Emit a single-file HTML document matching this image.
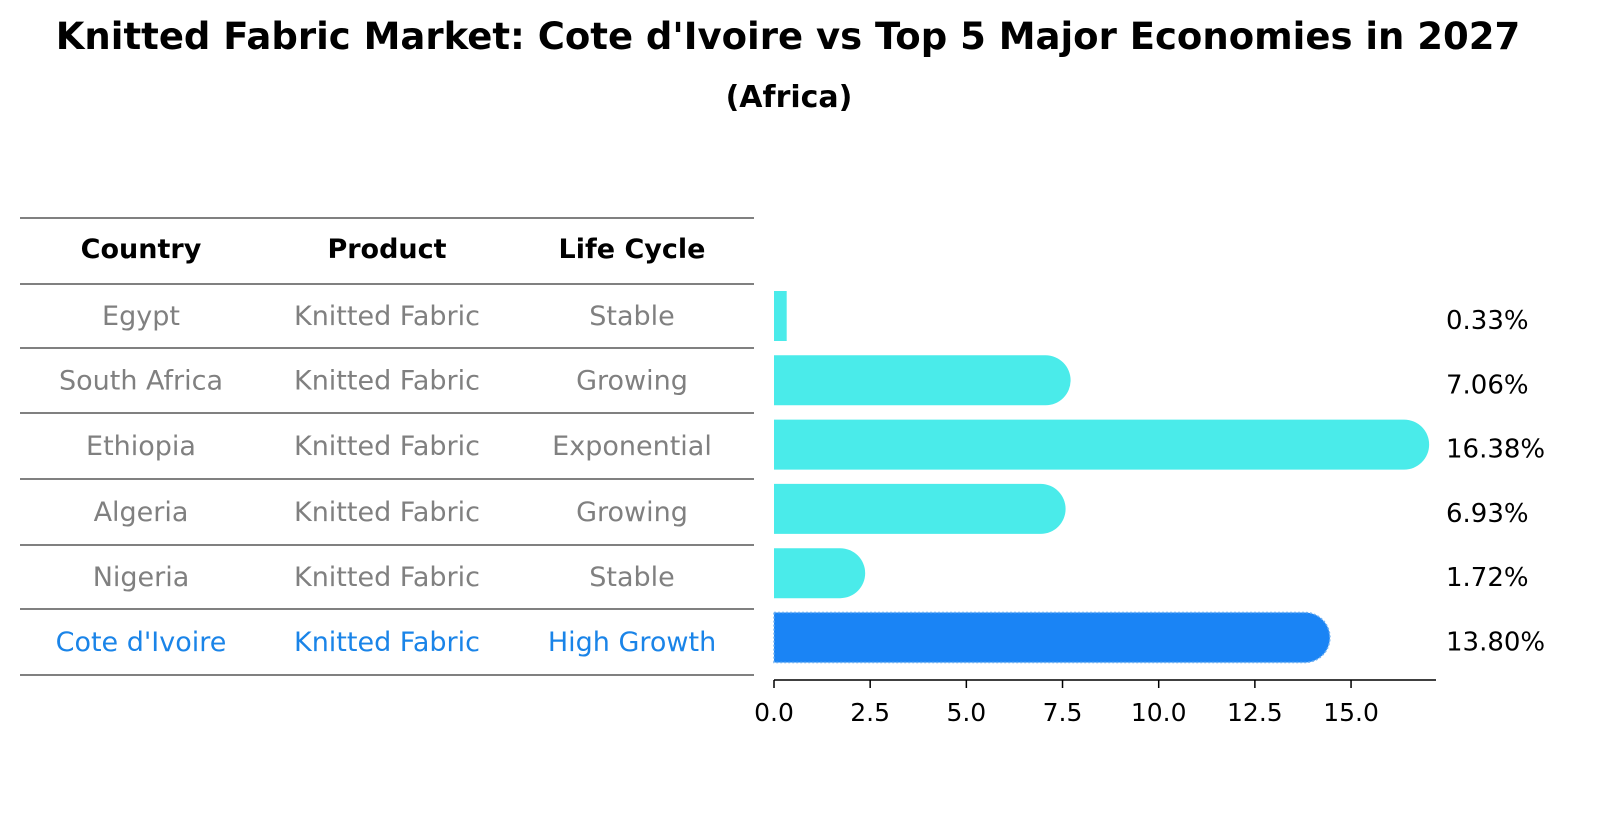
<!DOCTYPE html>
<html><head><meta charset="utf-8"><style>
body{margin:0;background:#fff;font-family:"Liberation Sans","DejaVu Sans",sans-serif;}
svg text{font-family:"DejaVu Sans","Liberation Sans",sans-serif;}
</style></head><body>
<svg id="c" width="1604" height="823" xmlns="http://www.w3.org/2000/svg">
<text x="788" y="49" text-anchor="middle" font-size="37" font-weight="bold" fill="#000">Knitted Fabric Market: Cote d'Ivoire vs Top 5 Major Economies in 2027</text>
<text x="789" y="107" text-anchor="middle" font-size="30" font-weight="bold" fill="#000">(Africa)</text>
<g id="table"></g>
<g id="bars"></g>
</svg>
<script>
const countries=["Egypt","South Africa","Ethiopia","Algeria","Nigeria","Cote d'Ivoire"];
const products=["Knitted Fabric","Knitted Fabric","Knitted Fabric","Knitted Fabric","Knitted Fabric","Knitted Fabric"];
const lifeCycles=["Stable","Growing","Exponential","Growing","Stable","High Growth"];
const values=[0.33,7.06,16.38,6.93,1.72,13.80];
const valueLabels=["0.33%","7.06%","16.38%","6.93%","1.72%","13.80%"];
const ticks=[0,2.5,5,7.5,10,12.5,15];
const tickLabels=["0.0","2.5","5.0","7.5","10.0","12.5","15.0"];

const NS="http://www.w3.org/2000/svg";
function mk(tag,attrs,parent){const e=document.createElementNS(NS,tag);for(const k in attrs)e.setAttribute(k,attrs[k]);parent.appendChild(e);return e;}
const x=v=>774+v*38.47;
const rowY=i=>316+i*64.3;
const tbl=document.getElementById('table');
const bars=document.getElementById('bars');
const lineYs=[218,284,348,413,479,545,609,675];
lineYs.forEach((ly,i)=>{const l=mk('line',{x1:20,x2:754,y1:ly,y2:ly,stroke:'#000','stroke-width':1},tbl);

});
const colX=[141,387,632];
["Country","Product","Life Cycle"].forEach((h,j)=>{const t=mk('text',{x:colX[j],y:258,'text-anchor':'middle','font-size':27,'font-weight':'bold',fill:'#000'},tbl);t.textContent=h;

});
countries.forEach((c,i)=>{
 const hl=i===countries.length-1;const col=hl?'#1a84e8':'#808080';
 [c,products[i],lifeCycles[i]].forEach((s,j)=>{const t=mk('text',{x:colX[j],y:(lineYs[i+1]+lineYs[i+2])/2+9,'text-anchor':'middle','font-size':27,fill:col},tbl);t.textContent=s;
 
 });
 const v=values[i];const cy=rowY(i);const h=50;const r=25;
 const color=hl?'#1a84f5':'#4aebea';
 const g=mk('g',{},bars);
 
 
 if(v>1){
  const x0=x(0),x1=x(v);
  const d=`M${x0},${cy-r} L${x1},${cy-r} A${r},${r} 0 0 1 ${x1},${cy+r} L${x0},${cy+r} Z`;
  const attrs={d:d,fill:color};
  if(hl){attrs.stroke='#6fb0f2';attrs['stroke-width']=1.5;attrs['stroke-dasharray']='2 2';}
  mk('path',attrs,g);
 } else {
  mk('rect',{x:x(0),y:cy-h/2,width:Math.max(1,x(v)-x(0)),height:h,fill:color},g);
 }
 const lt=mk('text',{x:1446,y:cy+13,'font-size':26,fill:'#000'},bars);lt.textContent=valueLabels[i];
 
 
});
const ax=mk('line',{x1:774,x2:1436,y1:680,y2:680,stroke:'#000','stroke-width':1.5},bars);


ticks.forEach((t,i)=>{mk('line',{x1:x(t),x2:x(t),y1:680,y2:688,stroke:'#000','stroke-width':1.5},bars);
 const tt=mk('text',{x:x(t),y:721,'text-anchor':'middle','font-size':25,fill:'#000'},bars);tt.textContent=tickLabels[i];
 
 });
</script>
</body></html>
